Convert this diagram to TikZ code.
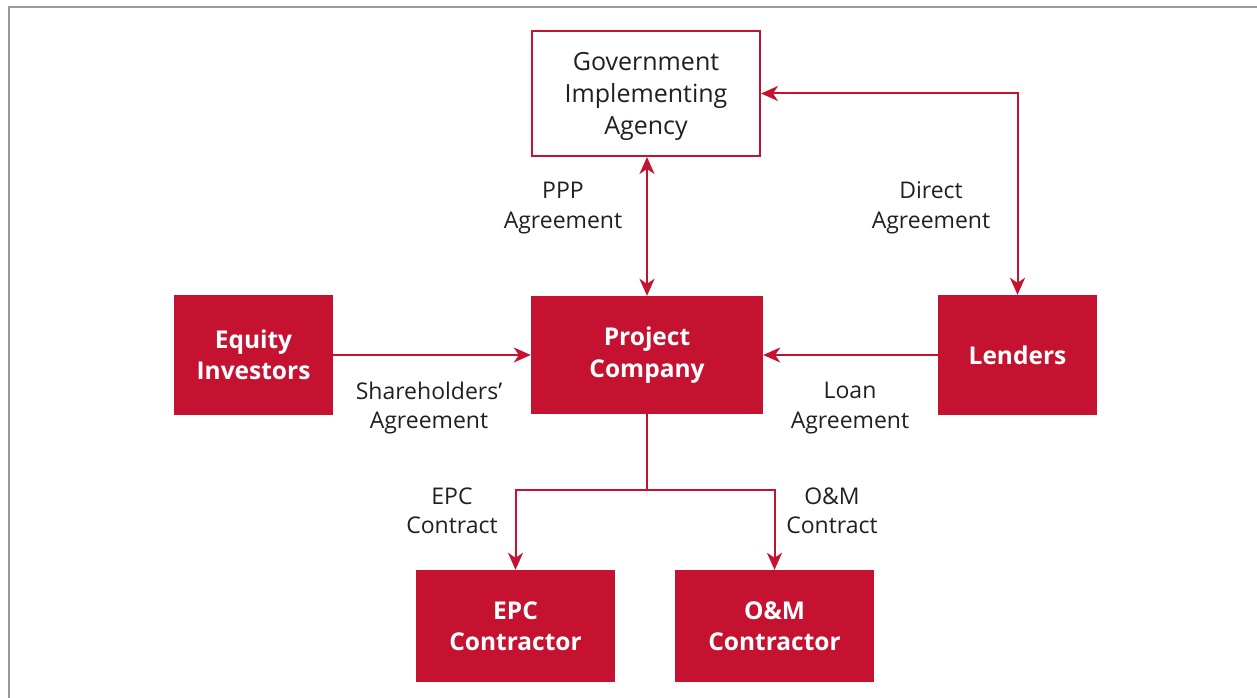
\documentclass[tikz,border=0pt]{standalone}
\usepackage{fontspec}
\setmainfont{Open Sans}
\usetikzlibrary{arrows.meta}
\definecolor{brandred}{HTML}{C41230}
\definecolor{framegray}{HTML}{9A9A9C}
\definecolor{txt}{HTML}{231F20}
\begin{document}
\begin{tikzpicture}[x=1pt,y=-1pt,
  redbox/.style={fill=brandred, draw=none, text=white, font=\bfseries\fontsize{24.5}{31.5}\selectfont, align=center, inner sep=0pt},
  whitebox/.style={fill=white, draw=brandred, line width=2pt, inner sep=0pt},
  boxtext/.style={text=txt, font=\fontsize{25}{32}\selectfont, align=center, inner sep=0pt},
  conn/.style={draw=brandred, line width=2pt},
  tip/.style={-{Stealth[length=17pt,width=15pt,inset=5pt]}},
  tipboth/.style={{Stealth[length=17pt,width=15pt,inset=5pt]}-{Stealth[length=17pt,width=15pt,inset=5pt]}},
  lbl/.style={text=txt, font=\fontsize{23}{29.5}\selectfont, align=center, inner sep=0pt}
]
\useasboundingbox (0,0) rectangle (1257,698);
\draw[framegray, line width=2.5pt] (9,698) -- (9,7) -- (1257,7);

\node[whitebox, minimum width=228pt, minimum height=125pt] (gov) at (646,93.5) {};
\node[boxtext] (govtext) at ([yshift=-3pt]gov.center) {Government\\Implementing\\Agency};
\node[redbox, minimum width=232pt, minimum height=118pt] (pc) at (647,355) {Project\\Company};
\node[redbox, minimum width=159pt, minimum height=120pt] (eq) at (253.5,355) {Equity\\Investors};
\node[redbox, minimum width=159pt, minimum height=120pt] (lend) at (1017.5,355) {Lenders};
\node[redbox, minimum width=199pt, minimum height=112pt] (epc) at (515.5,626) {EPC\\Contractor};
\node[redbox, minimum width=199pt, minimum height=112pt] (om) at (774.5,626) {O\&M\\Contractor};

\draw[conn, tipboth] (gov.south -| pc.north) -- (pc.north);
\draw[conn, tipboth] (gov.east) -| (lend.north);
\draw[conn, tip] (eq.east) -- (pc.west);
\draw[conn, tip] (lend.west) -- (pc.east);
\draw[conn] (pc.south) -- ++(0,76) coordinate (j);
\draw[conn, tip] (j) -| (epc.north);
\draw[conn, tip] (j) -| (om.north);

\node[lbl] (lppp) at (563,208) {PPP\\Agreement};
\node[lbl] (ldir) at (931,208) {Direct\\Agreement};
\node[lbl] (lsh) at (429,408) {Shareholders’\\Agreement};
\node[lbl] (lloan) at (850,408) {Loan\\Agreement};
\node[lbl] (lepc) at (452,511) {EPC\\Contract};
\node[lbl] (lom) at (832,511) {O\&M\\Contract};
\end{tikzpicture}
\end{document}
